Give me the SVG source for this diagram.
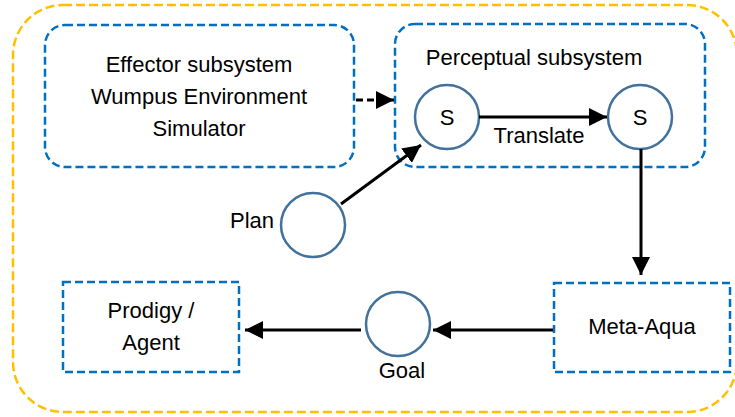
<svg xmlns="http://www.w3.org/2000/svg" width="735" height="417" viewBox="0 0 735 417">
<style>
.t{font-family:"Liberation Sans",Arial,sans-serif;font-size:22px;fill:#000;text-anchor:middle}
.box{fill:none;stroke:#0070C0;stroke-width:2.5;stroke-dasharray:8 4}
.c{fill:#fff;stroke:#41719C;stroke-width:2.5}
.a{stroke:#000;stroke-width:3;fill:none;marker-end:url(#ah)}
</style>
<defs>
<marker id="ah" viewBox="0 0 10 10" refX="10" refY="5" markerWidth="6" markerHeight="6" markerUnits="strokeWidth" orient="auto">
<path d="M0,0 L10,5 L0,10 z" fill="#000"/>
</marker>
</defs>
<rect id="outer" x="13" y="5" width="724" height="407" rx="50" fill="none" stroke="#FFC000" stroke-width="2.5" stroke-dasharray="9 4"/>
<g id="effector">
<rect class="box" x="45" y="25" width="309" height="142" rx="20"/>
<text class="t" x="199" y="72">Effector subsystem</text>
<text class="t" x="199" y="104">Wumpus Environment</text>
<text class="t" x="199" y="136">Simulator</text>
</g>
<g id="perceptual">
<rect class="box" x="395" y="24" width="310" height="143" rx="20"/>
<text class="t" x="534" y="65">Perceptual subsystem</text>
</g>
<g id="s1">
<circle class="c" cx="447" cy="117" r="32"/>
<text class="t" x="447" y="125">S</text>
</g>
<g id="s2">
<circle class="c" cx="640" cy="117" r="32"/>
<text class="t" x="640" y="125">S</text>
</g>
<g id="plan">
<circle class="c" cx="313" cy="225" r="32"/>
<text class="t" x="274" y="228" style="text-anchor:end">Plan</text>
</g>
<g id="goal">
<circle class="c" cx="398" cy="324" r="32"/>
<text class="t" x="402" y="378">Goal</text>
</g>
<g id="metaaqua">
<rect class="box" x="554" y="283" width="176" height="89"/>
<text class="t" x="642" y="334">Meta-Aqua</text>
</g>
<g id="prodigy">
<rect class="box" x="63" y="282" width="176" height="90"/>
<text class="t" x="151" y="318">Prodigy /</text>
<text class="t" x="151" y="350">Agent</text>
</g>
<g id="connectors">
<line x1="356" y1="100" x2="394" y2="100" stroke="#000" stroke-width="3" stroke-dasharray="7 4" marker-end="url(#ah)"/>
<line class="a" x1="479" y1="117" x2="607" y2="117"/>
<text class="t" x="539" y="143">Translate</text>
<line class="a" x1="341" y1="204" x2="421" y2="145"/>
<line class="a" x1="641" y1="149" x2="641" y2="275"/>
<line class="a" x1="553" y1="330" x2="433" y2="330"/>
<line class="a" x1="361" y1="330" x2="245" y2="330"/>
</g>
</svg>
